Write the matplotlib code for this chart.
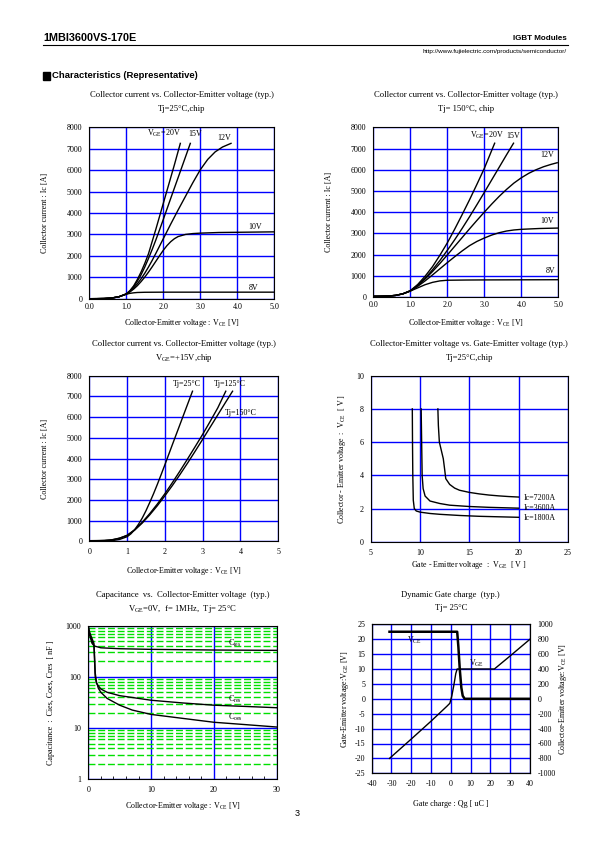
import matplotlib
matplotlib.use("Agg")
import matplotlib.pyplot as plt
from matplotlib.lines import Line2D
from matplotlib.patches import Rectangle
from matplotlib.ticker import FixedLocator, NullFormatter, FuncFormatter

plt.rcParams['font.family'] = ['Liberation Serif', 'DejaVu Serif']
plt.rcParams['mathtext.fontset'] = 'custom'
plt.rcParams['mathtext.rm'] = 'Liberation Serif'
plt.rcParams['mathtext.default'] = 'regular'
plt.rcParams['axes.unicode_minus'] = False

# ---- data ----
# Ic vs Vce, Tj=25C (per VGE)
t25_20v_x = [0, 0.2, 0.4, 0.6, 0.8, 1.0, 1.1, 1.2, 1.3, 1.4, 1.5, 1.6, 1.8, 2.0, 2.2, 2.3, 2.46]
t25_20v_y = [0, 2, 8, 30, 90, 230, 380, 600, 900, 1250, 1650, 2100, 3250, 4450, 5650, 6250, 7250]
t25_15v_x = [0, 0.2, 0.4, 0.6, 0.8, 1.0, 1.1, 1.2, 1.3, 1.4, 1.5, 1.6, 1.7, 1.8, 1.9, 2.0, 2.2, 2.4, 2.6, 2.73]
t25_15v_y = [0, 2, 8, 30, 90, 220, 360, 560, 820, 1120, 1480, 1880, 2300, 2750, 3220, 3700, 4680, 5650, 6620, 7250]
t25_12v_x = [0, 0.2, 0.4, 0.6, 0.8, 1.0, 1.1, 1.2, 1.3, 1.4, 1.5, 1.6, 1.7, 1.8, 1.9, 2.0, 2.2, 2.4, 2.6, 2.8,
             3.0, 3.2, 3.4, 3.6, 3.83]
t25_12v_y = [0, 2, 8, 30, 90, 220, 340, 500, 700, 930, 1190, 1480, 1790, 2120, 2460, 2800, 3480, 4140, 4780, 5420,
             6020, 6500, 6850, 7080, 7250]
t25_10v_x = [0, 0.2, 0.4, 0.6, 0.8, 1.0, 1.1, 1.2, 1.3, 1.4, 1.5, 1.6, 1.7, 1.8, 1.9, 2.0, 2.1, 2.2, 2.3, 2.4,
             2.6, 2.8, 3.0, 3.5, 4.0, 5.0]
t25_10v_y = [0, 2, 8, 30, 90, 210, 320, 450, 610, 800, 1010, 1240, 1490, 1750, 2010, 2260, 2480, 2660, 2800, 2900,
             3000, 3040, 3060, 3090, 3100, 3120]
t25_8v_x = [0, 0.2, 0.4, 0.6, 0.8, 0.9, 1.0, 1.1, 1.2, 1.3, 1.5, 2.0, 3.0, 5.0]
t25_8v_y = [0, 2, 8, 30, 90, 150, 210, 250, 275, 290, 300, 305, 305, 305]

# Ic vs Vce, Tj=150C (per VGE)
t150_20v_x = [0, 0.2, 0.4, 0.6, 0.8, 1.0, 1.2, 1.4, 1.6, 1.8, 2.0, 2.2, 2.4, 2.6, 2.8, 3.0, 3.28]
t150_20v_y = [30, 35, 45, 75, 150, 300, 590, 980, 1430, 1970, 2550, 3200, 3880, 4580, 5310, 6060, 7250]
t150_15v_x = [0, 0.2, 0.4, 0.6, 0.8, 1.0, 1.2, 1.4, 1.6, 1.8, 2.0, 2.2, 2.4, 2.6, 2.8, 3.0, 3.2, 3.4, 3.6, 3.79]
t150_15v_y = [30, 35, 45, 75, 150, 280, 540, 880, 1280, 1720, 2200, 2700, 3230, 3780, 4350, 4930, 5520, 6110,
              6700, 7250]
t150_12v_x = [0, 0.2, 0.4, 0.6, 0.8, 1.0, 1.2, 1.4, 1.6, 1.8, 2.0, 2.2, 2.4, 2.6, 2.8, 3.0, 3.2, 3.4, 3.6, 3.8,
              4.0, 4.2, 4.4, 4.6, 4.8, 4.97]
t150_12v_y = [30, 35, 45, 75, 150, 290, 540, 850, 1200, 1580, 1980, 2390, 2800, 3210, 3610, 4000, 4380, 4740,
              5070, 5370, 5620, 5830, 6000, 6140, 6250, 6330]
t150_10v_x = [0, 0.2, 0.4, 0.6, 0.8, 1.0, 1.2, 1.4, 1.6, 1.8, 2.0, 2.2, 2.4, 2.6, 2.8, 3.0, 3.2, 3.4, 3.6, 3.8,
              4.0, 4.5, 5.0]
t150_10v_y = [30, 35, 45, 75, 150, 290, 500, 760, 1040, 1330, 1620, 1900, 2170, 2420, 2620, 2780, 2920, 3030,
              3110, 3160, 3190, 3230, 3250]
t150_8v_x = [0, 0.2, 0.4, 0.6, 0.8, 0.9, 1.0, 1.2, 1.4, 1.6, 1.8, 2.0, 2.5, 3.0, 4.0, 5.0]
t150_8v_y = [30, 35, 45, 75, 150, 210, 280, 430, 580, 690, 760, 790, 800, 805, 810, 815]

# Ic vs Vce at VGE=+15V, Tj=125C (25C and 150C reuse the 15V curves above)
t125_15v_x = [0, 0.2, 0.4, 0.6, 0.8, 1.0, 1.2, 1.4, 1.6, 1.8, 2.0, 2.2, 2.4, 2.6, 2.8, 3.0, 3.2, 3.4, 3.61]
t125_15v_y = [20, 25, 35, 65, 150, 290, 560, 920, 1340, 1800, 2300, 2840, 3400, 3980, 4570, 5170, 5800, 6450,
              7250]

# Vce vs Vge, Tj=25C
ic1800_vge = [9.2, 9.22, 9.25, 9.3, 9.4, 9.6, 10, 11, 12, 14, 16, 18, 20]
ic1800_vce = [8, 6, 4, 2.5, 2.0, 1.85, 1.78, 1.7, 1.65, 1.58, 1.53, 1.5, 1.47]
ic3600_vge = [10.1, 10.15, 10.2, 10.3, 10.5, 11, 12, 13, 15, 17, 20]
ic3600_vce = [8, 6, 4, 3.2, 2.75, 2.45, 2.3, 2.2, 2.12, 2.07, 2.02]
ic7200_vge = [11.8, 11.85, 11.95, 12.15, 12.35, 12.5, 12.6, 13, 13.5, 14, 15, 16, 17, 18, 19, 20]
ic7200_vce = [8, 7, 6, 5.5, 5, 4.3, 3.8, 3.45, 3.23, 3.1, 2.97, 2.88, 2.81, 2.76, 2.72, 2.69]

# Capacitance vs Vce
cies_v = [0.1, 0.3, 0.6, 1.0, 2, 5, 10, 15, 20, 30]
cies_c = [900, 600, 450, 400, 370, 355, 345, 340, 335, 330]
cres_v = [0.1, 0.5, 0.9, 1.0, 1.1, 1.3, 2, 3, 5, 10, 15, 20, 25, 30]
cres_c = [700, 550, 400, 200, 100, 75, 58, 50, 43, 35, 31, 28, 26.5, 25]
coes_v = [0.1, 0.5, 0.9, 1.0, 1.1, 1.3, 1.6, 2, 3, 5, 7, 10, 15, 20, 25, 30]
coes_c = [800, 600, 450, 250, 120, 80, 60, 50, 38, 28, 22.5, 18.5, 15.5, 13, 11.7, 10.5]

# Dynamic gate charge
qg_vge = [-31, -20, -10, -2, -0.5, 0.5, 1.5, 2.5, 3.2, 22, 30, 40]
vge_qg = [-20, -13.5, -7.5, -2.5, -1.5, 1, 4.5, 8.5, 10, 10, 14.4, 20]
qg_vce = [-31, 3.2, 3.8, 4.5, 5.3, 6.0, 7, 40]
vce_qg = [900, 900, 700, 400, 150, 40, 0, 0]

W, H = 595, 842
BLUE = '#0000ff'
GREEN = '#00e000'
FS = 5.8
TFS = 6.2

fig = plt.figure(figsize=(W / 100, H / 100), dpi=100)


def add_ax(l, t, r, b):
    return fig.add_axes([l / W, 1 - b / H, (r - l) / W, (b - t) / H])


def ftext(x, y, s, **kw):
    kw.setdefault('fontsize', FS)
    kw.setdefault('ha', 'center')
    kw.setdefault('va', 'center')
    fig.text(x / W, 1 - y / H, s, **kw)


def style(ax, xpad=3, ypad=5):
    ax.grid(True, color=BLUE, lw=1.0)
    ax.set_axisbelow(True)
    for sp in ax.spines.values():
        sp.set_linewidth(0.8)
    ax.tick_params(length=0, labelsize=FS, colors='black')
    ax.tick_params(axis='x', pad=xpad)
    ax.tick_params(axis='y', pad=ypad)


# ---- page header ----
ftext(43, 38, '1MBI3600VS-170E', family='Liberation Sans', fontsize=7.8, weight='bold', ha='left')
ftext(567, 39, 'IGBT Modules', family='Liberation Sans', fontsize=5.8, weight='bold', ha='right')
fig.add_artist(Line2D([43 / W, 568 / W], [1 - 45 / H, 1 - 45 / H], color='black', lw=0.8))
ftext(567, 51, 'http://www.fujielectric.com/products/semiconductor/', family='Liberation Sans',
      fontsize=4.6, ha='right')
fig.add_artist(Rectangle((43 / W, 1 - 79.5 / H), 7 / W, 7 / H, color='black'))
ftext(52, 76, 'Characteristics (Representative)', family='Liberation Sans', fontsize=6.8,
      weight='bold', ha='left')
ftext(297, 814, '3', family='Liberation Sans', fontsize=6.5)

ICE_TICKS = [0, 1000, 2000, 3000, 4000, 5000, 6000, 7000, 8000]
XLAB_VCE = 'Collector-Emitter voltage : V$_{CE}$ [V]'


def ic_chart(l, t, r, b, curves, labels, sub, xfmt):
    ax = add_ax(l, t, r, b)
    for x, y in curves:
        ax.plot(x, y, color='black', lw=1.0)
    ax.set_xlim(0, 5)
    ax.set_ylim(0, 8000)
    ax.set_xticks([0, 1, 2, 3, 4, 5])
    ax.set_yticks(ICE_TICKS)
    ax.xaxis.set_major_formatter(FuncFormatter(xfmt))
    style(ax)
    for x, y, s in labels:
        ax.text(x, y, s, fontsize=FS, ha='left', va='center')
    cx = (l + r) / 2
    ftext(cx, t - 32, 'Collector current vs. Collector-Emitter voltage (typ.)', fontsize=TFS)
    ftext(cx, t - 18, sub, fontsize=TFS)
    ftext(l - 44, (t + b) / 2, 'Collector current : Ic [A]', rotation=90)
    return ax


# chart 1
ax1 = ic_chart(89.3, 127.3, 274.3, 298.7,
               [(t25_20v_x, t25_20v_y), (t25_15v_x, t25_15v_y), (t25_12v_x, t25_12v_y),
                (t25_10v_x, t25_10v_y), (t25_8v_x, t25_8v_y)],
               [(1.57, 7700, 'V$_{GE}$=20V'), (2.68, 7700, '15V'), (3.47, 7520, '12V'),
                (4.3, 3330, '10V'), (4.3, 500, '8V')],
               'Tj=25°C,chip', lambda v, p: f'{v:.1f}')
ftext(181.8, 322.7, XLAB_VCE)

# chart 2
ax2 = ic_chart(373.3, 127.3, 558.3, 297,
               [(t150_20v_x, t150_20v_y), (t150_15v_x, t150_15v_y), (t150_12v_x, t150_12v_y),
                (t150_10v_x, t150_10v_y), (t150_8v_x, t150_8v_y)],
               [(2.6, 7600, 'V$_{GE}$=20V'), (3.6, 7600, '15V'), (4.52, 6700, '12V'),
                (4.52, 3580, '10V'), (4.65, 1240, '8V')],
               'Tj= 150°C, chip', lambda v, p: f'{v:.1f}')
ftext(465.8, 322.7, XLAB_VCE)

# chart 3
ax3 = ic_chart(89.3, 375.7, 278.3, 541.3,
               [(t25_15v_x, t25_15v_y), (t125_15v_x, t125_15v_y), (t150_15v_x, t150_15v_y)],
               [(2.2, 7620, 'Tj=25°C'), (3.3, 7620, 'Tj=125°C'), (3.6, 6180, 'Tj=150°C')],
               'V$_{GE}$=+15V,chip', lambda v, p: f'{v:.0f}')
ax3.tick_params(axis='x', pad=5)
ftext(183.8, 571, XLAB_VCE)

# chart 4
ax4 = add_ax(371, 375.7, 567.7, 541.7)
for x, y in [(ic1800_vge, ic1800_vce), (ic3600_vge, ic3600_vce), (ic7200_vge, ic7200_vce)]:
    ax4.plot(x, y, color='black', lw=1.0)
ax4.set_xlim(5, 25)
ax4.set_ylim(0, 10)
ax4.set_xticks([5, 10, 15, 20, 25])
ax4.set_yticks([0, 2, 4, 6, 8, 10])
style(ax4, xpad=5)
for y, s in [(2.62, 'Ic=7200A'), (2.05, 'Ic=3600A'), (1.45, 'Ic=1800A')]:
    ax4.text(20.55, y, s, fontsize=FS, ha='left', va='center')
ftext(469.3, 343.7, 'Collector-Emitter voltage vs. Gate-Emitter voltage (typ.)', fontsize=TFS)
ftext(469.3, 358, 'Tj=25°C,chip', fontsize=TFS)
ftext(341.7, 458.7, 'Collector - Emitter voltage  :  V$_{CE}$  [ V ]', rotation=90)
ftext(469.3, 565, 'Gate - Emitter voltage  :  V$_{GE}$  [ V ]')

# chart 5
ax5 = add_ax(88.3, 625.7, 276.7, 779.3)
ax5.set_yscale('log')
ax5.set_xlim(0, 30)
ax5.set_ylim(1, 1000)
ax5.set_xticks([0, 10, 20, 30])
ax5.set_yticks([1, 10, 100, 1000])
ax5.yaxis.set_major_formatter(FuncFormatter(lambda v, p: f'{v:g}'))
minor_y = [m * 10 ** k for k in range(3) for m in range(2, 10)]
ax5.yaxis.set_minor_locator(FixedLocator(minor_y))
ax5.yaxis.set_minor_formatter(NullFormatter())
ax5.xaxis.set_minor_locator(FixedLocator(list(range(2, 30, 2))))
style(ax5, xpad=5, ypad=5)
ax5.grid(True, which='minor', axis='y', color=GREEN, lw=1.0, linestyle=(0, (5, 2)))
ax5.tick_params(which='minor', axis='y', length=0)
ax5.tick_params(which='minor', axis='x', length=2.5, direction='in', width=0.6)
for x, y in [(cies_v, cies_c), (cres_v, cres_c), (coes_v, coes_c)]:
    ax5.plot(x, y, color='black', lw=1.0)
ax5.text(22.2, 450, 'C$_{ies}$', fontsize=FS, ha='left', va='center')
ax5.text(22.2, 36, 'C$_{res}$', fontsize=FS, ha='left', va='center')
ax5.text(22.2, 16.4, 'C$_{oes}$', fontsize=FS, ha='left', va='center')
ftext(182.5, 595, 'Capacitance  vs.  Collector-Emitter voltage  (typ.)', fontsize=TFS)
ftext(182.5, 609.3, 'V$_{GE}$=0V,  f= 1MHz,  Tj= 25°C', fontsize=TFS)
ftext(50.7, 702.5, 'Capacitance  :  Cies, Coes, Cres  [ nF ]', rotation=90)
ftext(182.5, 806, XLAB_VCE)

# chart 6
ax6 = add_ax(371.7, 624.3, 530, 773.3)
ax6.plot(qg_vge, vge_qg, color='black', lw=1.0)
ax6.set_xlim(-40, 40)
ax6.set_ylim(-25, 25)
ax6.set_xticks(list(range(-40, 41, 10)))
ax6.set_yticks(list(range(-25, 26, 5)))
style(ax6, xpad=5, ypad=4.5)
ax6r = ax6.twinx()
ax6r.plot(qg_vce, vce_qg, color='black', lw=1.8)
ax6r.set_ylim(-1000, 1000)
ax6r.set_yticks(list(range(-1000, 1001, 200)))
ax6r.tick_params(length=0, labelsize=FS, pad=5.5)
for sp in ax6r.spines.values():
    sp.set_linewidth(0.8)
ax6.text(-18.5, 19.6, 'V$_{CE}$', fontsize=FS, ha='center', va='center')
ax6.text(13.2, 12.0, 'V$_{GE}$', fontsize=FS, ha='center', va='center')
ftext(450.8, 595, 'Dynamic Gate charge  (typ.)', fontsize=TFS)
ftext(450.8, 608, 'Tj= 25°C', fontsize=TFS)
ftext(345, 698.8, 'Gate-Emitter voltage:V$_{GE}$ [V]', rotation=90)
ftext(562.7, 698.8, 'Collector-Emitter voltage:V$_{CE}$ [V]', rotation=90)
ftext(450.8, 804, 'Gate charge : Qg [ uC ]')

fig.savefig('out.png', dpi=100)
